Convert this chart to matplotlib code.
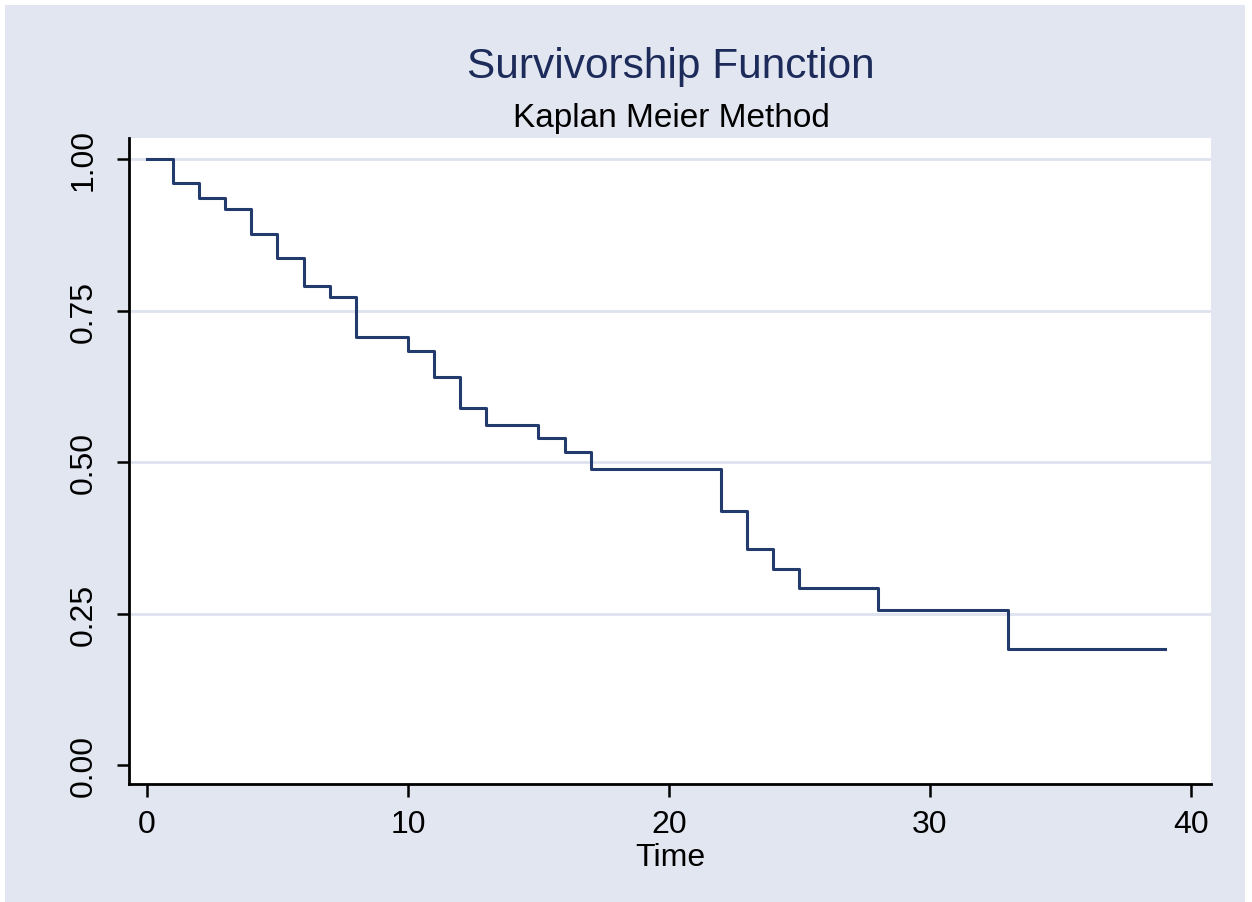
import matplotlib
matplotlib.use("Agg")
import matplotlib.pyplot as plt
import numpy as np
from matplotlib.patches import Rectangle

plt.rcParams['font.family'] = ['Liberation Sans', 'DejaVu Sans']

# Kaplan-Meier estimate
times = [0, 1, 2, 3, 4, 5, 6, 7, 8, 10, 11, 12, 13, 15, 16, 17, 22, 23, 24, 25, 28, 33]
surv = [1.0, 0.96, 0.936, 0.918, 0.876, 0.836, 0.790, 0.772, 0.707, 0.684, 0.640,
        0.589, 0.561, 0.539, 0.516, 0.488, 0.419, 0.356, 0.324, 0.292, 0.255, 0.191]
t_end = 39

xticks = [0, 10, 20, 30, 40]
yticks = [0.0, 0.25, 0.5, 0.75, 1.0]
ytick_labels = ["0.00", "0.25", "0.50", "0.75", "1.00"]

bg = '#e2e6f0'
navy = '#223a6c'

fig = plt.figure(figsize=(12.52, 9.03), dpi=100)
fig.patch.set_facecolor('white')
fig.add_artist(Rectangle((5 / 1252, 0), 1240 / 1252, 897 / 903,
                         transform=fig.transFigure, facecolor=bg,
                         edgecolor='none', zorder=-10))

ax = fig.add_axes([0.103, 0.1307, 0.8643, 0.7153])
ax.set_facecolor('white')

for y in yticks[1:]:
    ax.axhline(y, color='#dde2ee', lw=2.0, zorder=1)

x = np.append(times, t_end)
y = np.append(surv, surv[-1])
ax.step(x, y, where='post', color=navy, lw=2.2, zorder=3)

ax.set_xlim(-0.69, 40.77)
ax.set_ylim(-0.0313, 1.0346)
ax.set_xticks(xticks)
ax.set_yticks(yticks)
ax.set_yticklabels(ytick_labels, rotation=90, va='center')

for s in ['top', 'right']:
    ax.spines[s].set_visible(False)
for s in ['left', 'bottom']:
    ax.spines[s].set_linewidth(2.0)
    ax.spines[s].set_color('black')

ax.tick_params(axis='both', direction='out', length=9, width=1.8,
               labelsize=23, colors='black')
ax.tick_params(axis='y', pad=13)
ax.tick_params(axis='x', pad=9)

ax.set_xlabel("Time", fontsize=23, labelpad=2)

fig.text(0.536, 0.914, "Survivorship Function", ha='center', va='baseline',
         fontsize=30.5, color='#1c2b5a')
fig.text(0.536, 0.859, "Kaplan Meier Method", ha='center', va='baseline',
         fontsize=24, color='black')

fig.savefig("out.png", dpi=100, facecolor=fig.get_facecolor())
